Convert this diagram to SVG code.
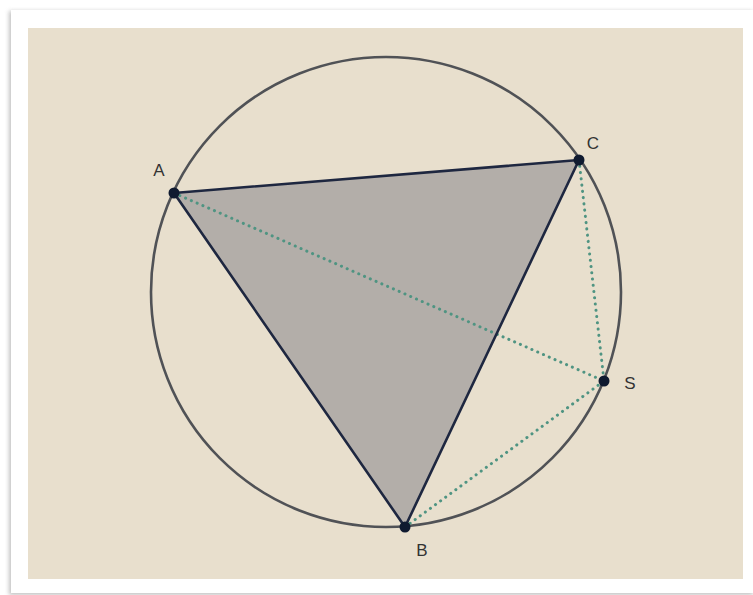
<svg xmlns="http://www.w3.org/2000/svg" width="753" height="595" viewBox="0 0 753 595">
<defs>
<style>
.lbl{font-family:"Liberation Sans",Arial,sans-serif;font-size:17px;fill:#333;text-anchor:middle}
.side{stroke:#1e2740;stroke-width:2.6;fill:none;stroke-linecap:round}
.dot{stroke:#4f9482;stroke-width:3;stroke-dasharray:0.1 6.2;stroke-linecap:round;fill:none}
.pt{fill:#0f1a30}
</style>
<filter id="sh" x="-5%" y="-5%" width="110%" height="110%">
<feGaussianBlur stdDeviation="2"/>
</filter>
</defs>
<rect x="0" y="0" width="753" height="595" fill="#ffffff"/>
<rect x="9" y="11" width="744" height="584" fill="#9a9a9a" filter="url(#sh)" opacity="0.6"/>
<rect x="11" y="10" width="742" height="583" fill="#ffffff"/>
<rect x="28" y="28" width="715" height="551" fill="#e8dfcd"/>
<circle cx="386" cy="292" r="235" fill="none" stroke="#505256" stroke-width="2.6"/>
<g id="triangle">
<polygon points="174,193 579,160 405,527" fill="#b3aea9"/>
</g>
<g id="connectors">
<line class="dot" x1="174" y1="193" x2="604" y2="381"/>
<line class="dot" x1="579" y1="160" x2="604" y2="381"/>
<line class="dot" x1="405" y1="527" x2="604" y2="381"/>
<line class="side" x1="174" y1="193" x2="579" y2="160"/>
<line class="side" x1="579" y1="160" x2="405" y2="527"/>
<line class="side" x1="405" y1="527" x2="174" y2="193"/>
</g>
<g id="A"><circle class="pt" cx="174" cy="193" r="5.5"/><text class="lbl" x="159" y="176">A</text></g>
<g id="C"><circle class="pt" cx="579" cy="160" r="5.5"/><text class="lbl" x="593" y="149">C</text></g>
<g id="S"><circle class="pt" cx="604" cy="381" r="5.5"/><text class="lbl" x="630" y="389">S</text></g>
<g id="B"><circle class="pt" cx="405" cy="527" r="5.5"/><text class="lbl" x="422" y="556">B</text></g>
</svg>
